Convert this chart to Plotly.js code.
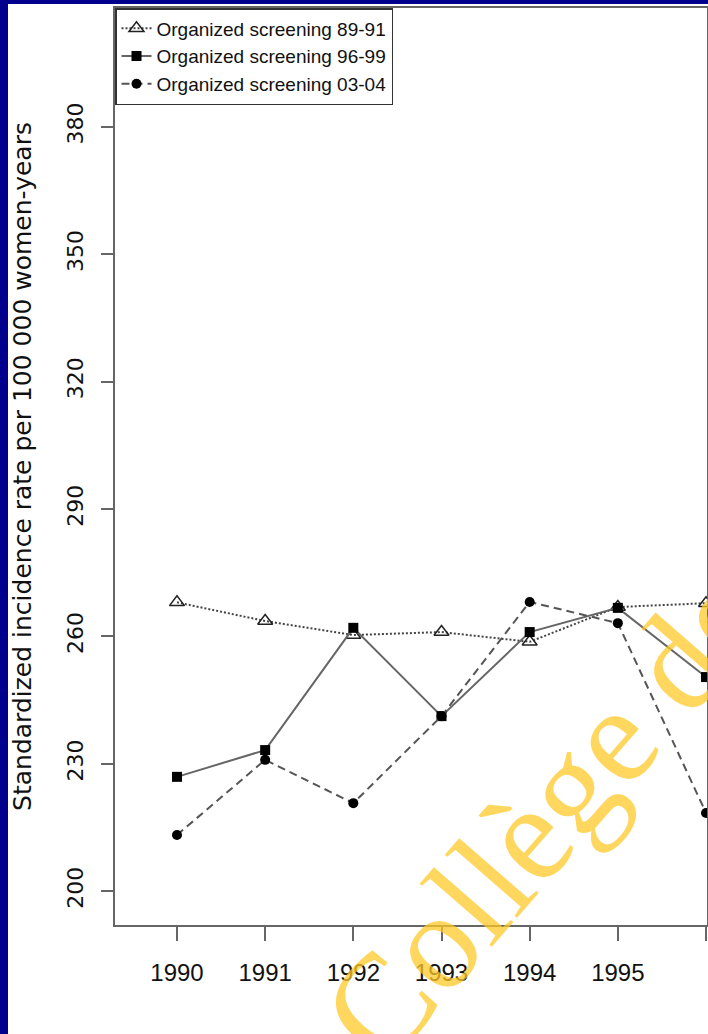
<!DOCTYPE html>
<html>
<head>
<meta charset="utf-8">
<script src="https://cdn.plot.ly/plotly-3.0.1.min.js"></script>
<style>
html, body { margin: 0; padding: 0; width: 708px; height: 1034px; background: #00008c; overflow: hidden; }
#plot { position: absolute; left: 8px; top: 4px; width: 700px; height: 1030px; }
</style>
</head>
<body>
<div id="plot"></div>
<script>
// Data
var years = [1990, 1991, 1992, 1993, 1994, 1995, 1996];
var screening8991 = [268.0, 263.6, 260.3, 261.0, 258.7, 266.9, 267.8];
var screening9699 = [226.9, 233.2, 262.0, 241.2, 261.0, 266.7, 250.4];
var screening0304 = [213.2, 230.9, 220.7, 241.2, 268.1, 263.1, 218.4];
var seriesNames = ["Organized screening 89-91", "Organized screening 96-99", "Organized screening 03-04"];
var yTicks = [200, 230, 260, 290, 320, 350, 380];
var yTitle = "Standardized incidence rate per 100 000 women-years";
var watermark = "Collège de France";

var traces = [
  {
    x: years, y: screening8991, name: seriesNames[0], type: "scatter", mode: "lines+markers",
    line: { color: "#444", width: 2, dash: "2px,2px" },
    marker: { symbol: "triangle-up-open", size: 13, color: "#222", line: { width: 1.5, color: "#222" } }
  },
  {
    x: years, y: screening9699, name: seriesNames[1], type: "scatter", mode: "lines+markers",
    line: { color: "#666", width: 2 },
    marker: { symbol: "square", size: 10, color: "#000" }
  },
  {
    x: years, y: screening0304, name: seriesNames[2], type: "scatter", mode: "lines+markers",
    line: { color: "#555", width: 2, dash: "8px,5px" },
    marker: { symbol: "circle", size: 10, color: "#000" }
  }
];

var layout = {
  width: 700, height: 1030,
  margin: { l: 107, r: 1, t: 4, b: 109 },
  paper_bgcolor: "#ffffff", plot_bgcolor: "#ffffff",
  showlegend: true,
  legend: {
    x: 0, y: 1, xanchor: "left", yanchor: "top",
    bgcolor: "#ffffff", bordercolor: "#333", borderwidth: 1.5,
    font: { family: "Liberation Sans, Arial, sans-serif", size: 19, color: "#111" }
  },
  xaxis: {
    range: [1989.297, 1996.011], tickvals: years, ticktext: years.map(String),
    ticks: "outside", ticklen: 14, tickwidth: 2, tickcolor: "#666",
    showline: true, linecolor: "#666", linewidth: 2, mirror: true,
    showgrid: false, zeroline: false, ticklabelstandoff: 11,
    tickfont: { family: "Liberation Sans, Arial, sans-serif", size: 24, color: "#111" }
  },
  yaxis: {
    range: [192, 408], tickvals: yTicks, ticktext: yTicks.map(String), tickangle: -90,
    ticks: "outside", ticklen: 12, tickwidth: 2, tickcolor: "#666",
    showline: true, linecolor: "#666", linewidth: 2, mirror: true,
    showgrid: false, zeroline: false, ticklabelstandoff: 9,
    tickfont: { family: "DejaVu Sans, sans-serif", size: 22, color: "#111" },
    title: { text: yTitle, standoff: 25, font: { family: "DejaVu Sans, sans-serif", size: 25, color: "#111" } }
  },
  annotations: [
    {
      text: watermark, xref: "paper", yref: "paper", x: 0.953, y: 0.2879,
      xanchor: "center", yanchor: "middle",
      showarrow: false, textangle: -49,
      font: { family: "Liberation Serif, Times New Roman, serif", size: 138, color: "rgba(255,200,40,0.75)" }
    }
  ]
};

Plotly.newPlot("plot", traces, layout, { staticPlot: true, displayModeBar: false });
</script>
</body>
</html>
